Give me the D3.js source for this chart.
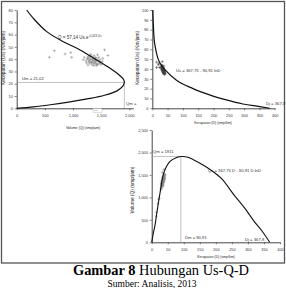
<!DOCTYPE html>
<html><head><meta charset="utf-8">
<script src="https://cdn.jsdelivr.net/npm/d3@7"></script>
<style>body{margin:0;background:#fff}svg{display:block}</style>
</head><body>
<svg id="c" width="286" height="288"></svg>
<script>
// ---- tick labels
const p1XTicks=[0,500,1000,1500,2000];
const p1YTicks=[0,10,20,30,40,50,60,70,80];
const p2XTicks=[0,50,100,150,200,250,300,350,400];
const p2YTicks=[0,10,20,30,40,50,60,70,80,90,100];
const p3XTicks=[0,50,100,150,200,250,300,350,400];
const p3YTicks=[0,500,1000,1500,2000,2500];
// ---- fitted curves
const c1Q =[177,296,533,828,1124,1420,1657,1834,1900,1911,1880,1780,1560,1250,920,600,300,0];
const c1Us=[80,73.2,62.4,54.2,47.5,39.3,32.5,26.5,23.3,21.02,17.8,14.2,10.6,7.6,5.0,2.9,1.2,0];
const c2D =[1.5,3,5.6,10,17,27,45,78,133,187,242,296,351,384];
const c2Us=[100,88,72,62,52,45,38,28.8,20,13.6,8.5,4.4,1.7,0];
const c3D =[0,5,10,17,26,38,57,78,93,110,130,160,194,220,257,290,320,345,367.8];
const c3Q =[0,200,370,700,1100,1550,1800,1890,1911,1900,1840,1720,1560,1400,1050,760,460,240,0];
// ---- observations
const obsQ =[1250,1280,1300,1320,1340,1360,1380,1400,1420,1440,1270,1290,1310,1330,1350,1370,1390,1410,1430,1460,1230,1260,1300,1345,1385,1425,1470,1500,1520,1200,1240,1280,1320,1360,1400,1440,1480,1350,1330,1375,1395,1410,1290,1315,1455,1490,1180,1530,1265,1435,580,669,858,959,976,1560,1620];
const obsUs=[40.2,38.5,41.0,37.6,39.8,36.9,40.5,38.1,36.4,39.2,42.1,36.8,39.5,35.9,41.7,38.8,37.2,40.9,35.4,37.9,38.6,40.8,43.0,38.3,36.1,38.9,36.7,35.5,38.2,41.5,37.0,39.9,42.4,34.8,41.2,35.8,39.6,40.1,37.3,42.8,39.0,34.6,38.0,44.0,41.3,37.4,39.5,40.6,35.2,43.5,41.5,46.9,44.2,45.3,41.5,47.5,43.0];
const obsD =[31.1,33.2,31.7,35.1,33.7,36.9,34.1,36.7,39.0,36.7,30.2,35.1,33.2,37.0,32.4,35.3,37.4,34.5,40.4,38.5,31.9,30.9,30.2,35.1,38.4,36.6,40.1,42.3,39.8,28.9,33.5,32.1,31.1,39.1,34.0,40.2,37.4,33.7,35.7,32.1,35.8,40.8,33.9,29.9,35.2,39.8,29.9,37.7,35.9,33.0,14.0,14.3,19.4,21.2,23.5,32.8,37.7];
// ---- annotation values
const Um=21.02, Qm=1911, Dm=90.91, Dj=367.8;

const svg=d3.select('#c');
const FONT='Liberation Sans, Arial, sans-serif';
svg.append('rect').attr('x',1.5).attr('y',1.5).attr('width',283).attr('height',261.5)
  .attr('fill','none').attr('stroke','#555').attr('stroke-width',1.3);

function axes(x,y,xt,yt){
  const gx=svg.append('g').attr('transform',`translate(0,${y(0)})`)
    .call(d3.axisBottom(x).tickValues(xt).tickSize(2).tickSizeOuter(0).tickPadding(3.5));
  const gy=svg.append('g').attr('transform',`translate(${x(0)},0)`)
    .call(d3.axisLeft(y).tickValues(yt).tickSize(2).tickSizeOuter(0).tickPadding(1.8));
  [gx,gy].forEach(g=>{
    g.attr('font-size',3.9).attr('font-family',FONT);
    g.select('.domain').attr('stroke','#333').attr('stroke-width',0.9);
    g.selectAll('.tick line').attr('stroke','#333').attr('stroke-width',0.6);
    g.selectAll('.tick text').attr('fill','#333');
  });
}
function label(x,y,t,size,rot){
  const e=svg.append('text').attr('font-family',FONT).attr('font-size',size).attr('fill','#222')
    .attr('text-anchor','middle').text(t);
  if(rot) e.attr('transform',`translate(${x},${y}) rotate(-90)`); else e.attr('x',x).attr('y',y);
}
function txt(x,y,t,size){
  return svg.append('text').attr('x',x).attr('y',y).attr('font-family',FONT).attr('font-size',size||4)
    .attr('fill','#333').text(t);
}
function plus(px,py,color){
  svg.append('path').attr('d',`M${px-1.4},${py}h2.8M${px},${py-1.4}v2.8`)
    .attr('stroke',color).attr('stroke-width',0.55);
}

// ---------- Panel 1: Us vs Q
const x1=d3.scaleLinear().domain([0,2070]).range([16.7,133.3]);
const y1=d3.scaleLinear().domain([0,80]).range([108.3,10]);
axes(x1,y1,p1XTicks,p1YTicks);
svg.append('path').attr('d',`M${x1(0)},${y1(Um)}H${x1(Qm)}V${y1(0)}`)
  .attr('fill','none').attr('stroke','#999').attr('stroke-width',0.6);
obsQ.forEach((q,i)=>plus(x1(q),y1(obsUs[i]),'#888'));
svg.append('path').datum(c1Q.map((q,i)=>[q,c1Us[i]]))
  .attr('d',d3.line().x(d=>x1(d[0])).y(d=>y1(d[1])).curve(d3.curveCatmullRom))
  .attr('fill','none').attr('stroke','#111').attr('stroke-width',1.2);
const t1=txt(58,39,'Q = 57,14 Us.e',4.5);
t1.append('tspan').attr('dy',-1.8).attr('font-size',3).text('-0,023 Us');
txt(22,80,'Um = 21,02',4.2);
txt(126,105,'Qm = ',4.2);
svg.append('rect').attr('x',93).attr('y',108.6).attr('width',9).attr('height',3.6)
  .attr('fill','#fff').attr('stroke','#aaa').attr('stroke-width',0.4);
txt(94,111.4,'Dm=',2.4).attr('fill','#777');
label(83,129,'Volume (Q) (smp/jam)',3.5);
label(5,58,'Kecepatan (Us) (Km/jam)',4.8,true);

// ---------- Panel 2: Us vs D
const x2=d3.scaleLinear().domain([0,400]).range([152.3,274.7]);
const y2=d3.scaleLinear().domain([0,100]).range([108.3,10]);
axes(x2,y2,p2XTicks,p2YTicks);
obsD.forEach((d,i)=>plus(x2(d),y2(obsUs[i]),'#444'));
svg.append('path').datum(c2D.map((d,i)=>[d,c2Us[i]]))
  .attr('d',d3.line().x(d=>x2(d[0])).y(d=>y2(d[1])).curve(d3.curveMonotoneX))
  .attr('fill','none').attr('stroke','#111').attr('stroke-width',1.2);
txt(176,72,'Us = 367,75 - 90,91 lnD',4.2);
txt(266,105,'Dj = 367,8',4.2);
label(213,124,'Kerapatan (D) (smp/km)',3.5);
label(139,58,'Kecepatan (Us) (Km/jam)',4.8,true);

// ---------- Panel 3: Q vs D
const x3=d3.scaleLinear().domain([0,400]).range([151.7,280]);
const y3=d3.scaleLinear().domain([0,2500]).range([242.3,130]);
axes(x3,y3,p3XTicks,p3YTicks);
svg.append('path').attr('d',`M${x3(0)},${y3(Qm)}H${x3(Dm)}V${y3(0)}`)
  .attr('fill','none').attr('stroke','#999').attr('stroke-width',0.6);
obsD.forEach((d,i)=>plus(x3(d),y3(obsQ[i]),'#888'));
svg.append('path').datum(c3D.map((d,i)=>[d,c3Q[i]]))
  .attr('d',d3.line().x(d=>x3(d[0])).y(d=>y3(d[1])).curve(d3.curveCatmullRom))
  .attr('fill','none').attr('stroke','#111').attr('stroke-width',1.1);
txt(153,153,'Qm = 1911',4.2);
txt(208,171.5,'Qs = 367,75 D - 90,91 D.lnD',4.2);
txt(185,238.5,'Dm = 90,91',4.2);
txt(245,241,'Dj = 367,8',4.2);
label(216,258,'Kerapatan (D) (smp/km)',3.5);
label(134,190,'Volume (Q) (smp/jam)',4.8,true);

// ---------- Caption
const cap=svg.append('text').attr('x',161).attr('y',275).attr('text-anchor','middle')
  .attr('font-family','Liberation Serif, Times New Roman, serif').attr('font-size',14.4).attr('fill','#000');
cap.append('tspan').attr('font-weight','bold').text('Gambar 8');
cap.append('tspan').text(' Hubungan Us-Q-D');
svg.append('text').attr('x',152).attr('y',287).attr('text-anchor','middle')
  .attr('font-family','Liberation Serif, Times New Roman, serif').attr('font-size',9.5).attr('fill','#000')
  .text('Sumber: Analisis, 2013');
</script>
</body></html>
